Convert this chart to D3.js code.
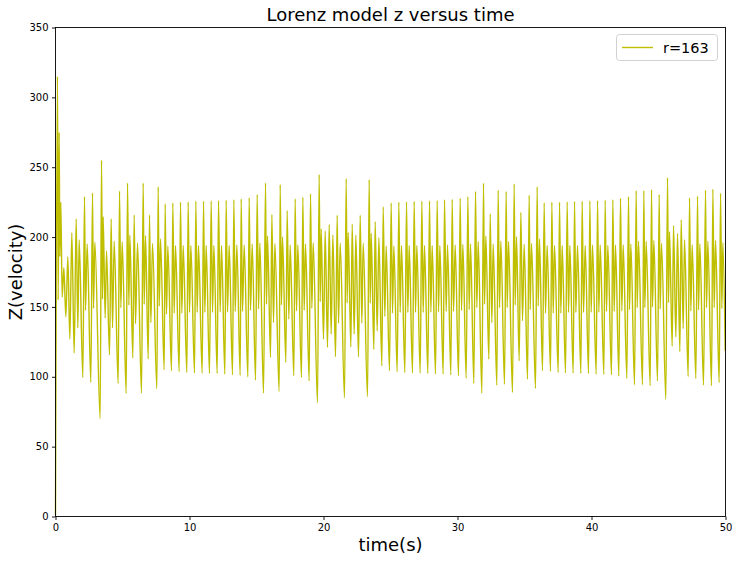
<!DOCTYPE html>
<html>
<head>
<meta charset="utf-8">
<script src="https://cdn.jsdelivr.net/npm/d3@7"></script>
<style>
  html, body { margin: 0; padding: 0; background: #ffffff; }
  svg { display: block; font-family: "DejaVu Sans", sans-serif; }
</style>
</head>
<body>
<svg id="chart" width="738" height="562"></svg>
<script>
// ---- data (local extrema of z(t)) ----
const times = [
  0, 0.149, 0.199, 0.274, 0.324, 0.398, 0.498, 0.622, 0.772, 0.921,
  1.070, 1.219, 1.394, 1.543, 1.667, 1.767, 2.040, 2.165, 2.239, 2.364,
  2.637, 2.762, 2.837, 2.936, 3.334, 3.434, 3.508, 3.558, 3.707, 3.807,
  4.031, 4.155, 4.255, 4.379, 4.678, 4.777, 4.877, 4.976, 5.275, 5.374,
  5.474, 5.548, 5.772, 5.872, 5.971, 6.121, 6.419, 6.544, 6.618, 6.718,
  6.917, 7.016, 7.116, 7.240, 7.564, 7.663, 7.738, 7.837, 8.111,
  8.184, 8.284, 8.383, 8.657, 8.757, 8.856, 8.956, 9.229, 9.329, 9.428,
  9.528, 9.802, 9.901, 10.001, 10.100, 10.374, 10.473, 10.573, 10.672, 10.946,
  11.046, 11.145, 11.245, 11.493, 11.618, 11.717, 11.817, 12.066, 12.165, 12.290,
  12.389, 12.638, 12.737, 12.837, 12.961, 13.210, 13.310, 13.409, 13.534, 13.782,
  13.857, 13.956, 14.081, 14.355, 14.454, 14.554, 14.678, 14.927, 15.051, 15.151,
  15.250, 15.524, 15.673, 15.748, 15.823, 16.046, 16.146, 16.270, 16.370,
  16.692, 16.767, 16.866, 16.941, 17.189, 17.289, 17.413, 17.513, 17.787, 17.886,
  17.986, 18.085, 18.359, 18.458, 18.558, 18.657, 18.931, 19.031, 19.130, 19.230,
  19.553, 19.677, 19.752, 19.827, 20.001, 20.125, 20.299, 20.424, 20.573, 20.698,
  20.897, 21.021, 21.121, 21.245, 21.568, 21.693, 21.767, 21.842, 22.041, 22.141,
  22.290, 22.414, 22.613, 22.738, 22.862, 22.962, 23.285, 23.409, 23.484, 23.559,
  23.758, 23.857, 24.007, 24.131, 24.355, 24.455,
  24.577, 24.677, 24.926, 25.050, 25.150, 25.249, 25.498, 25.622, 25.722, 25.821,
  26.070, 26.195, 26.294, 26.394, 26.642, 26.767, 26.866, 26.966, 27.215, 27.339,
  27.439, 27.538, 27.787, 27.911, 28.011, 28.110, 28.359, 28.484, 28.583, 28.683,
  28.931, 29.031, 29.155, 29.255, 29.504, 29.603, 29.703, 29.827, 30.076, 30.200,
  30.300, 30.399, 30.648, 30.773, 30.872, 30.972, 31.220, 31.345, 31.444, 31.544,
  31.818, 31.942, 32.017, 32.116, 32.340, 32.440, 32.564, 32.662,
  32.936, 33.035, 33.135, 33.234, 33.508, 33.632, 33.707, 33.807, 34.105, 34.230,
  34.304, 34.404, 34.603, 34.727, 34.851, 34.976, 35.225, 35.349, 35.424, 35.523,
  35.822, 35.946, 36.021, 36.120, 36.344, 36.469, 36.568, 36.693, 36.941, 37.041,
  37.141, 37.240, 37.514, 37.613, 37.713, 37.812, 38.061, 38.185, 38.285, 38.384,
  38.633, 38.733, 38.832, 38.957, 39.205, 39.305, 39.404, 39.529, 39.778, 39.877,
  39.977, 40.076, 40.350, 40.450, 40.549, 40.649, 40.922,
  41.020, 41.120, 41.219, 41.493, 41.593, 41.692, 41.792, 42.040, 42.165, 42.264,
  42.364, 42.638, 42.762, 42.837, 42.936, 43.210, 43.334, 43.409, 43.508, 43.807,
  43.906, 43.981, 44.081, 44.379, 44.479, 44.553, 44.653, 44.926, 45.051, 45.125,
  45.225, 45.548, 45.673, 45.748, 45.822, 46.021, 46.121, 46.295, 46.419, 46.593,
  46.693, 46.842, 46.942, 47.215, 47.315, 47.414, 47.514, 47.788, 47.912, 47.987,
  48.086, 48.360, 48.509, 48.584, 48.683, 48.957, 49.057, 49.156, 49.256, 49.530,
  49.629, 49.729, 49.802, 49.976
];
const zValues = [
  1, 315, 155, 275, 186, 225, 157, 178, 143, 186,
  127, 203, 117, 213, 135, 198, 99.5, 229, 147.6, 195,
  96, 231.6, 149, 196.4, 70, 255, 155.5, 214.5, 142, 190,
  115.7, 213, 135, 197, 95.2, 233, 149.4, 196.7, 88.1, 238.8,
  151.3, 201.3, 113.4, 215.9, 138, 195.7, 88.3, 238.6, 151.8, 200.9,
  112.7, 216, 138.8, 195.5, 91.4, 236, 150.6, 198.6, 105,
  223.8, 144.8, 193.6, 104.3, 224.5, 145.5, 194.0, 103.6, 225.0, 145.5,
  194.0, 103.1, 225.2, 146.0, 194.0, 102.8, 225.7, 146.0, 194.0, 102.6,
  225.7, 146.0, 194.0, 102.4, 226.0, 146.0, 194.0, 102.4, 226.2, 146.4,
  194.0, 101.9, 226.4, 146.4, 194.0, 101.4, 226.9, 146.7, 194.3, 100.9,
  227.4, 146.7, 194.3, 100.0, 228.3, 147.6, 195.0, 97.6, 230.5, 148.6,
  195.7, 88.3, 238.8, 151.9, 200.7, 113.8, 216.2, 138.8, 195.5,
  89.3, 237.6, 151.4, 200, 110.2, 219, 141.2, 194.3, 100.7, 227.4,
  147.1, 194.3, 99.5, 228.6, 147.6, 195, 97.1, 231, 149, 196,
  81.2, 244.8, 153.8, 205.9, 126.9, 204.3, 121, 209, 130.5, 201.4,
  114.3, 215.7, 138.3, 195.7, 84.8, 241.9, 152.8, 203.3, 121.4, 209.3,
  130.5, 201.4, 114.3, 215.7, 138.3, 195.7, 85.7, 241.2, 152.6, 202.6,
  119.5, 211, 132.8, 199.5, 107.8, 221.7,
  143.1, 193.6, 104.3, 224.5, 145.5, 193.6, 103.6, 225.0, 146.0, 194.0,
  103.1, 225.2, 146.0, 194.0, 102.8, 225.5, 146.0, 194.0, 102.6, 225.7,
  146.0, 194.0, 102.4, 226.0, 146.2, 194.0, 102.1, 226.2, 146.4, 194.0,
  101.9, 226.7, 146.7, 194.3, 101.4, 227.1, 146.7, 194.3, 100.7, 227.9,
  147.4, 194.8, 99.0, 229.0, 148.1, 195.0, 95.2, 232.8, 149.5, 196.9,
  88.3, 238.6, 151.9, 200.7, 112.6, 216.7, 138.8, 195.0,
  94, 233.6, 149.5, 197.1, 94.7, 232.8, 149.5, 196.9, 88.8, 238.1,
  151.4, 200.2, 111.4, 217.8, 140, 194.8, 98.3, 230, 148.1, 195.5,
  91.7, 236, 150.7, 198.6, 104.3, 224.5, 145.5, 194, 103.8, 225,
  145.5, 194, 103.1, 225, 145.5, 194, 102.8, 225.2, 146, 194,
  102.6, 225.5, 146, 194, 102.4, 225.7, 146, 194, 102.4, 226,
  146.2, 194.3, 101.9, 226.2, 146.2, 194.3, 101.7,
  226.4, 146.7, 194, 101.4, 226.9, 146.7, 194.3, 100.5, 227.9, 147.1,
  194.5, 98.8, 229, 148.1, 195, 94.3, 233.3, 149.5, 197.1, 94.3,
  233.3, 149.5, 197.1, 93.6, 234, 150, 197.6, 97.1, 230.5, 148.6,
  195.7, 83.8, 242.6, 153.1, 203.8, 121.9, 208.3, 128.6, 202.6, 117.9,
  212.4, 134.5, 198.1, 100.2, 228.1, 147.1, 194.5, 98.8, 229.3, 147.9,
  195.2, 94, 233.6, 149.5, 197.1, 93.6, 234.3, 149.5, 197.6, 95.9,
  231.4, 148.8, 196.2, 118.6
];
const xTicks = [0, 10, 20, 30, 40, 50];
const yTicks = [0, 50, 100, 150, 200, 250, 300, 350];
const seriesName = "r=163";
const titleText = "Lorenz model z versus time";
const xLabelText = "time(s)";
const yLabelText = "Z(velocity)";

// ---- layout ----
const mLeft = 55.5, mRight = 725.5, mTop = 27.5, mBottom = 516.5;
const svg = d3.select("#chart");

const x = d3.scaleLinear().domain([0, 50]).range([mLeft, mRight]);
const y = d3.scaleLinear().domain([0, 350]).range([mBottom, mTop]);

const n = Math.min(times.length, zValues.length);
const points = d3.range(n).map(i => [times[i], zValues[i]]);

// line
svg.append("path")
  .datum(points)
  .attr("fill", "none")
  .attr("stroke", "#bfbf00")
  .attr("stroke-width", 1.4)
  .attr("stroke-linejoin", "round")
  .attr("d", d3.line()
    .x(d => x(d[0]))
    .y(d => y(d[1]))
    .curve(d3.curveMonotoneX));

// axes
const xAxis = d3.axisBottom(x).tickValues(xTicks).tickSize(3.5).tickPadding(3.5).tickFormat(d3.format("d"));
const yAxis = d3.axisLeft(y).tickValues(yTicks).tickSize(3.5).tickPadding(3.5).tickFormat(d3.format("d"));

const gx = svg.append("g").attr("transform", `translate(0,${mBottom})`).call(xAxis);
const gy = svg.append("g").attr("transform", `translate(${mLeft},0)`).call(yAxis);
[gx, gy].forEach(g => {
  g.select(".domain").remove();
  g.selectAll(".tick line").attr("stroke", "#000").attr("stroke-width", 0.9);
  g.selectAll(".tick text").attr("fill", "#000").style("font-size", "10px")
    .style("font-family", "DejaVu Sans, sans-serif");
});

// spines
svg.append("rect")
  .attr("x", mLeft).attr("y", mTop)
  .attr("width", mRight - mLeft).attr("height", mBottom - mTop)
  .attr("fill", "none").attr("stroke", "#000").attr("stroke-width", 0.9);

// title & labels
svg.append("text")
  .attr("x", (mLeft + mRight) / 2).attr("y", 20.5)
  .attr("text-anchor", "middle")
  .style("font-size", "18px")
  .text(titleText);

svg.append("text")
  .attr("x", (mLeft + mRight) / 2).attr("y", 551)
  .attr("text-anchor", "middle")
  .style("font-size", "18px")
  .text(xLabelText);

svg.append("text")
  .attr("transform", `translate(22,${(mTop + mBottom) / 2}) rotate(-90)`)
  .attr("text-anchor", "middle")
  .style("font-size", "18px")
  .text(yLabelText);

// legend
const lg = svg.append("g");
lg.append("rect")
  .attr("x", 616.5).attr("y", 34.5).attr("width", 101).attr("height", 26)
  .attr("rx", 3).attr("ry", 3)
  .attr("fill", "#fff").attr("fill-opacity", 0.8)
  .attr("stroke", "#cccccc").attr("stroke-width", 0.9);
lg.append("line")
  .attr("x1", 622).attr("x2", 653).attr("y1", 47.5).attr("y2", 47.5)
  .attr("stroke", "#bfbf00").attr("stroke-width", 1.4);
lg.append("text")
  .attr("x", 663).attr("y", 52.7)
  .style("font-size", "14.5px")
  .text(seriesName);
</script>
</body>
</html>
